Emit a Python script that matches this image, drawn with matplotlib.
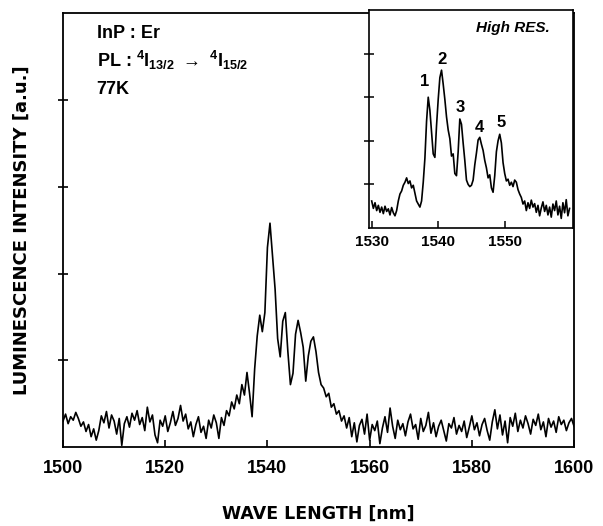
import numpy as np
import matplotlib
matplotlib.use("Agg")
import matplotlib.pyplot as plt

plt.rcParams['font.family'] = ['Liberation Sans', 'DejaVu Sans']
plt.rcParams['font.weight'] = 'bold'
plt.rcParams['mathtext.fontset'] = 'custom'
plt.rcParams['mathtext.rm'] = 'Liberation Sans:bold'
plt.rcParams['mathtext.bf'] = 'Liberation Sans:bold'
plt.rcParams['mathtext.default'] = 'bf'

# main spectrum, 1500-1600 nm every 0.5 nm
main_wl = np.arange(1500.0, 1600.01, 0.5)
main_val = [
    0.30, 0.38, 0.27, 0.35, 0.31, 0.40, 0.33, 0.24, 0.29, 0.18, 0.26, 0.12, 0.21, 0.08, 0.19, 0.36, 0.28, 0.41, 0.22, 0.37,
    0.30, 0.15, 0.33, 0.02, 0.27, 0.35, 0.23, 0.39, 0.31, 0.42, 0.26, 0.34, 0.19, 0.46, 0.29, 0.37, 0.14, 0.05, 0.31, 0.24,
    0.36, 0.18, 0.28, 0.41, 0.25, 0.33, 0.48, 0.30, 0.38, 0.21, 0.29, 0.12, 0.26, 0.35, 0.17, 0.24, 0.10, 0.31, 0.22, 0.37,
    0.28, 0.10, 0.34, 0.25, 0.42, 0.36, 0.52, 0.44, 0.60, 0.50,
    0.72, 0.60, 0.86, 0.62, 0.35, 0.90, 1.28, 1.52, 1.33, 1.55,
    2.30, 2.58, 2.20, 1.82, 1.25, 1.04, 1.45, 1.55, 1.10, 0.72,
    0.85, 1.30, 1.46, 1.32, 1.15, 0.76, 1.05, 1.22, 1.27, 1.10,
    0.86, 0.72, 0.68, 0.58, 0.62, 0.46, 0.50, 0.38, 0.42, 0.30,
    0.36, 0.22, 0.34, 0.12, 0.28,
    0.06, 0.25, 0.32, 0.15, 0.38, 0.08, 0.26, 0.19, 0.30, 0.04,
    0.22, 0.35, 0.17, 0.45, 0.24, 0.10, 0.31, 0.20, 0.27, 0.13,
    0.29, 0.38, 0.21, 0.26, 0.09, 0.33, 0.18, 0.25, 0.40, 0.16,
    0.28, 0.12, 0.24, 0.31, 0.19, 0.07, 0.27, 0.22, 0.34, 0.15,
    0.25, 0.18, 0.30, 0.11, 0.23, 0.36, 0.20, 0.28, 0.13, 0.26,
    0.33, 0.19, 0.08, 0.29, 0.43, 0.21, 0.37, 0.14, 0.30, 0.05,
    0.34, 0.24, 0.39, 0.18, 0.31, 0.22, 0.36, 0.27, 0.15, 0.32,
    0.25, 0.38, 0.20, 0.29, 0.12, 0.33, 0.23, 0.30, 0.17, 0.35,
    0.26, 0.31, 0.19, 0.28, 0.33, 0.24,
]

# high resolution inset, 1530-1559.75 nm every 0.25 nm
inset_wl = np.arange(1530.0, 1559.76, 0.25)
inset_val = [
    0.62, 0.45, 0.58, 0.40, 0.52, 0.36, 0.48, 0.33,
    0.50, 0.38, 0.44, 0.30, 0.47, 0.35, 0.28, 0.40,
    0.62, 0.78, 0.85, 0.98, 1.05, 1.15, 1.02, 1.08,
    0.92, 0.98, 0.80, 0.62, 0.55, 0.48, 0.62, 1.05,
    1.60, 2.45, 3.00, 2.70, 2.20, 1.70, 1.62, 2.35,
    2.95, 3.45, 3.62, 3.30, 2.95, 2.55, 2.25, 2.05,
    1.65, 1.70, 1.25, 1.20, 1.75, 2.50, 2.38, 1.95,
    1.55, 1.10, 1.00, 0.95, 0.98, 1.10, 1.45, 1.72,
    2.02, 2.08, 1.92, 1.78, 1.55, 1.38, 1.15, 1.22,
    0.92, 0.82, 1.20, 1.75, 2.00, 2.15, 1.95, 1.50,
    1.25, 1.08, 1.12, 0.98, 1.05, 0.95, 1.10, 1.05,
    0.88, 0.78, 0.70, 0.55, 0.62, 0.40, 0.58, 0.45,
    0.64, 0.48, 0.56, 0.36, 0.52, 0.28, 0.46, 0.60,
    0.38, 0.52, 0.30, 0.48, 0.25, 0.55, 0.40, 0.62,
    0.30, 0.50, 0.22, 0.58, 0.35, 0.65, 0.28, 0.45,
]

peak_labels = ["1", "2", "3", "4", "5"]
peak_x = [1537.9, 1540.6, 1543.3, 1546.2, 1549.4]
peak_y = [3.36, 3.86, 2.76, 2.31, 2.42]

fig = plt.figure(figsize=(6.03, 5.26), dpi=100)
ax = fig.add_axes([0.1045, 0.150, 0.8475, 0.825])
ax.plot(main_wl, main_val, color='black', lw=1.2)
ax.set_xlim(1500, 1600)
ax.set_ylim(0, 5)
ax.set_xticks([1500, 1520, 1540, 1560, 1580, 1600])
ax.set_yticks([1, 2, 3, 4])
ax.set_yticklabels([])
ax.tick_params(axis='x', direction='in', length=5, width=1.2, labelsize=13, pad=9)
ax.tick_params(axis='y', direction='inout', length=7, width=1.2)
for s in ax.spines.values():
    s.set_linewidth(1.3)
ax.set_xlabel("WAVE LENGTH [nm]", fontsize=12.5, fontweight='bold', labelpad=20,
              family='DejaVu Sans')
ax.set_ylabel("LUMINESCENCE INTENSITY [a.u.]", fontsize=13, fontweight='bold', labelpad=16,
              family='DejaVu Sans')

ax.text(0.066, 0.953, "InP : Er", transform=ax.transAxes, fontsize=13, va='center')
ax.text(0.066, 0.89, r"PL : $^4$I$_{13/2}$ $\rightarrow$ $^4$I$_{15/2}$", transform=ax.transAxes,
        fontsize=13, va='center')
ax.text(0.066, 0.824, "77K", transform=ax.transAxes, fontsize=13, va='center')

# inset
ins = fig.add_axes([0.612, 0.5665, 0.3375, 0.4145])
ins.plot(inset_wl, inset_val, color='black', lw=1.2)
ins.set_xlim(1529.6, 1560.2)
ins.set_ylim(0, 5)
ins.set_xticks([1530, 1540, 1550])
ins.set_yticks([1, 2, 3, 4])
ins.set_yticklabels([])
ins.tick_params(axis='x', direction='in', length=5, width=1.1, labelsize=11, pad=5)
ins.tick_params(axis='y', direction='inout', length=7, width=1.1)
for s in ins.spines.values():
    s.set_linewidth(1.2)
for lab, x, y in zip(peak_labels, peak_x, peak_y):
    ins.text(x, y, lab, fontsize=12, ha='center', va='center')
ins.text(1551.3, 4.58, "High RES.", fontsize=11, style='italic', ha='center', va='center')

fig.savefig("out.png", dpi=100)
